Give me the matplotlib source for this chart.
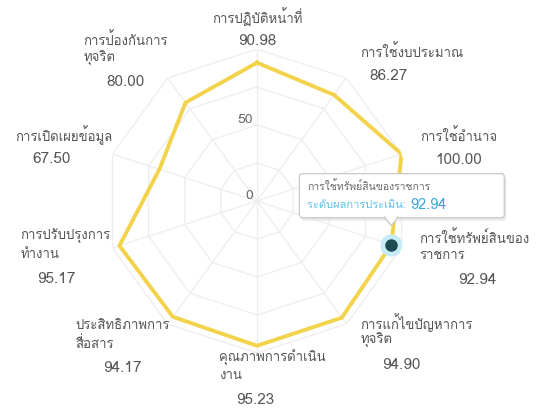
import numpy as np
import matplotlib
matplotlib.use("Agg")
import matplotlib.pyplot as plt
from matplotlib import font_manager
from matplotlib.ft2font import FT2Font
from matplotlib.patches import FancyBboxPatch, Polygon

# ITA indicators
categories = [
    "การปฏิบัติหน้าที่",
    "การใช้งบประมาณ",
    "การใช้อำนาจ",
    "การใช้ทรัพย์สินของ\nราชการ",
    "การแก้ไขปัญหาการ\nทุจริต",
    "คุณภาพการดำเนิน\nงาน",
    "ประสิทธิภาพการ\nสื่อสาร",
    "การปรับปรุงการ\nทำงาน",
    "การเปิดเผยข้อมูล",
    "การป้องกันการ\nทุจริต",
]
values = [90.98, 86.27, 100.00, 92.94, 94.90, 95.23, 94.17, 95.17, 67.50, 80.00]
grid_levels = [25, 50, 75, 100]
tick_labels = {0: "0", 50: "50"}
hover_idx = 3
tooltip_title = "การใช้ทรัพย์สินของราชการ"
tooltip_label = "ระดับผลการประเมิน: "

# label placement: block alignment, pixel offset of first line from the outer vertex,
# and horizontal nudge of the value under the name
label_ha = ["center", "left", "left", "left", "left", "center", "right", "right", "right", "right"]
label_off = [(0, -32), (14, -26), (19, -18), (18, -10), (14, -1),
             (15, 5), (2, 2), (-2, -11), (0, -19), (0, -38)]
value_dx = [0, -23, 0, 3, -15, -17, 0, -9, -12, 0]


def thai_families():
    found = []
    for f in font_manager.fontManager.ttflist:
        try:
            ft = FT2Font(f.fname)
            if ft.get_char_index(0x0E01) and f.name not in found:
                found.append(f.name)
        except Exception:
            pass
    return found


fams = thai_families()
plt.rcParams['font.family'] = fams[:1] + ['DejaVu Sans']

line_col = "#f2d34b"
text_col = "#555555"
W, H = 538, 411

fig = plt.figure(figsize=(W / 100, H / 100), dpi=100)
cx, cy, R = 257 / W, 1 - 201 / H, 152
ax = fig.add_axes([cx - R / W, cy - R / H, 2 * R / W, 2 * R / H], polar=True)
ax.set_theta_zero_location("N")
ax.set_theta_direction(-1)
ax.set_ylim(0, 100)
ax.axis("off")

n = len(categories)
theta = np.arange(n) * 2 * np.pi / n
tc = np.append(theta, theta[0])

# polygon grid + spokes
for lv in grid_levels:
    ax.plot(tc, [lv] * (n + 1), color="#eeeeee", lw=1, zorder=1)
for t in theta:
    ax.plot([t, t], [0, 100], color="#eeeeee", lw=1, zorder=1)

ax.plot(tc, np.append(values, values[0]), color=line_col, lw=2.8, zorder=3)

# hovered point
ax.plot(theta[hover_idx], values[hover_idx], "o", ms=15, color="#c4ebf6", zorder=4)
ax.plot(theta[hover_idx], values[hover_idx], "o", ms=8, color="#1e4a52", zorder=5)

fig.canvas.draw()
rend = fig.canvas.get_renderer()

# radial tick labels, just left of the top spoke
for lv, s in tick_labels.items():
    x, y = ax.transData.transform((0, lv))
    fig.text(x - 4, y + 5, s, transform=None, ha="right", va="center",
             fontsize=10, color="#666666", zorder=2)

# category labels: name lines, then value underneath
for i, (t, name, v) in enumerate(zip(theta, categories, values)):
    vx, vy = ax.transData.transform((t, 100))
    dx, dy = label_off[i]
    lines = name.split("\n")
    texts = []
    for k, ln in enumerate(lines):
        texts.append(fig.text(0, vy - dy - 18 * k, ln, transform=None, ha="left",
                              va="center", fontsize=9.5, color=text_col))
    bw = max(tx.get_window_extent(rend).width for tx in texts)
    if label_ha[i] == "left":
        left = vx + dx
    elif label_ha[i] == "right":
        left = vx + dx - bw
    else:
        left = vx + dx - bw / 2
    for tx in texts:
        tx.set_x(left)
    fig.text(left + bw / 2 + value_dx[i], vy - dy - 18 * (len(lines) - 1) - 24, f"{v:.2f}",
             transform=None, ha="center", va="center", fontsize=11, color=text_col)

# tooltip
px, py = ax.transData.transform((theta[hover_idx], values[hover_idx]))
bw, bh = 205, 44
bx, by = px - 92, py + 27
fig.patches.append(FancyBboxPatch((bx + 2, by - 3), bw, bh, boxstyle="round,pad=0,rounding_size=3",
                                  transform=None, fc="#dddddd", ec="none", alpha=0.6, zorder=9))
fig.patches.append(FancyBboxPatch((bx, by), bw, bh, boxstyle="round,pad=0,rounding_size=3",
                                  transform=None, fc="white", ec="#cccccc", lw=1, zorder=10))
fig.patches.append(Polygon([(px - 7, by + 0.5), (px + 7, by + 0.5), (px, by - 8)], closed=True,
                           transform=None, fc="white", ec="#cccccc", lw=1, zorder=10))
fig.patches.append(Polygon([(px - 6, by + 1.5), (px + 6, by + 1.5), (px, by - 6)], closed=True,
                           transform=None, fc="white", ec="none", zorder=11))
fig.text(bx + 8, by + bh - 12, tooltip_title, transform=None, fontsize=7.5, color="#666666",
         va="center", zorder=12)
lab = fig.text(bx + 8, by + 13, tooltip_label, transform=None, fontsize=8, color="#5bc0eb",
               va="center", zorder=12)
ext = lab.get_window_extent(rend)
fig.text(ext.x1, by + 13, f"{values[hover_idx]:.2f}", transform=None, fontsize=10.5,
         color="#3aa6e0", va="center", zorder=12)

fig.savefig("out.png", dpi=100)
